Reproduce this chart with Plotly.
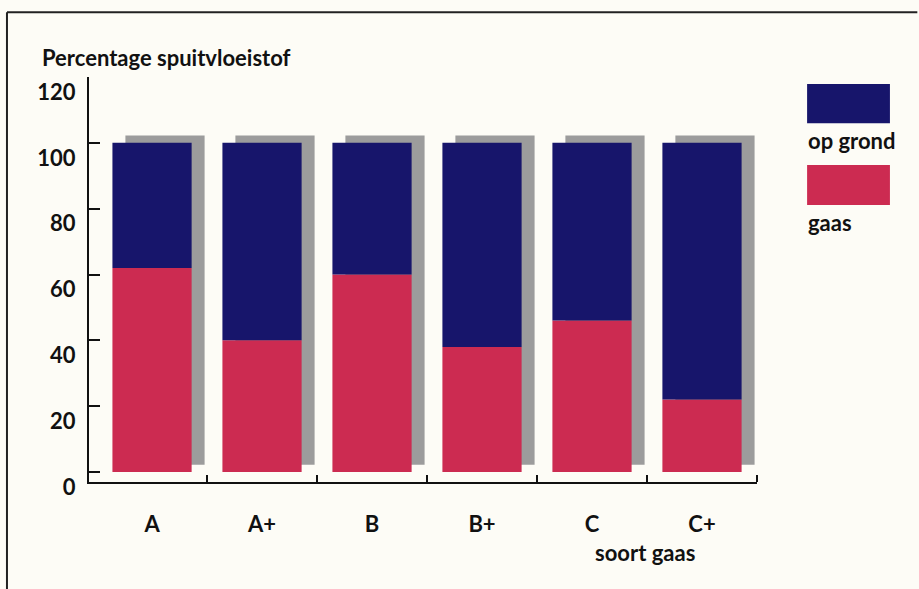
import plotly.graph_objects as go

# Soort gaas en verdeling van de spuitvloeistof (%)
categories = ["A", "A+", "B", "B+", "C", "C+"]
gaas = [62, 40, 60, 38, 46, 22]
op_grond = [38, 60, 40, 62, 54, 78]
y_ticks = [0, 20, 40, 60, 80, 100, 120]

NAVY = "#17156b"
RED = "#cc2b51"
GREY = "#9c9c9c"
BG = "#fdfcf6"
INK = "#111111"
FONT = "Lato"
FS = 22

xpos = list(range(len(categories)))
totals = [g + o for g, o in zip(gaas, op_grond)]
bar_w = 0.72

fig = go.Figure()

# drop shadow behind each stacked column
fig.add_trace(go.Bar(
    x=[p + 0.118 for p in xpos], y=totals, base=[2.2] * len(xpos),
    width=bar_w, marker=dict(color=GREY, line=dict(width=0)),
    showlegend=False, hoverinfo="skip",
))
fig.add_trace(go.Bar(
    x=xpos, y=gaas, width=bar_w, name="gaas",
    marker=dict(color=RED, line=dict(width=0)), showlegend=False,
))
fig.add_trace(go.Bar(
    x=xpos, y=op_grond, base=gaas, width=bar_w, name="op grond",
    marker=dict(color=NAVY, line=dict(width=0)), showlegend=False,
))

tick_font = dict(family=FONT, size=FS, color=INK, weight="bold")

fig.update_layout(
    width=919, height=589,
    margin=dict(l=89, r=162, t=77, b=107),
    paper_bgcolor=BG, plot_bgcolor=BG,
    barmode="overlay",
    font=dict(family=FONT, size=FS, color=INK, weight="bold"),
    xaxis=dict(
        range=[-0.573, 5.5],
        tickvals=xpos, ticktext=categories, ticks="",
        ticklabelstandoff=22,
        tickfont=tick_font,
        minor=dict(tickvals=[p + 0.5 for p in xpos], ticks="inside",
                   ticklen=7, tickwidth=2, tickcolor=INK),
        showline=True, linecolor=INK, linewidth=2,
        showgrid=False, zeroline=False, fixedrange=True,
    ),
    yaxis=dict(
        range=[-3.04, 120],
        tickvals=y_ticks, ticks="inside", ticklen=11, tickwidth=2,
        tickcolor=INK, ticklabelshift=15, ticklabelstandoff=7,
        tickfont=tick_font,
        showline=True, linecolor=INK, linewidth=2,
        showgrid=False, zeroline=False, fixedrange=True,
    ),
)

# page frame (top and left rule)
fig.add_shape(type="line", xref="paper", yref="paper",
              x0=-0.1228, x1=1.24, y0=1.160, y1=1.160,
              line=dict(color="#222222", width=2))
fig.add_shape(type="line", xref="paper", yref="paper",
              x0=-0.1228, x1=-0.1228, y0=1.160, y1=-0.27,
              line=dict(color="#222222", width=2))

# legend swatches and labels
fig.add_shape(type="rect", xref="paper", yref="paper",
              x0=1.075, x1=1.199, y0=0.886, y1=0.983,
              fillcolor=NAVY, line=dict(width=0))
fig.add_shape(type="rect", xref="paper", yref="paper",
              x0=1.075, x1=1.199, y0=0.684, y1=0.783,
              fillcolor=RED, line=dict(width=0))

ann_font = dict(family=FONT, size=FS, color=INK, weight="bold")
fig.add_annotation(text="op grond", xref="paper", yref="paper",
                   x=1.073, y=0.844, xanchor="left", yanchor="middle",
                   showarrow=False, font=ann_font)
fig.add_annotation(text="gaas", xref="paper", yref="paper",
                   x=1.073, y=0.640, xanchor="left", yanchor="middle",
                   showarrow=False, font=ann_font)

# axis titles
fig.add_annotation(text="Percentage spuitvloeistof", xref="paper", yref="paper",
                   x=-0.0734, y=1.047, xanchor="left", yanchor="middle",
                   showarrow=False, font=ann_font)
fig.add_annotation(text="soort gaas", xref="paper", yref="paper",
                   x=0.832, y=-0.175, xanchor="center", yanchor="middle",
                   showarrow=False, font=ann_font)

fig.write_html("out.html")
